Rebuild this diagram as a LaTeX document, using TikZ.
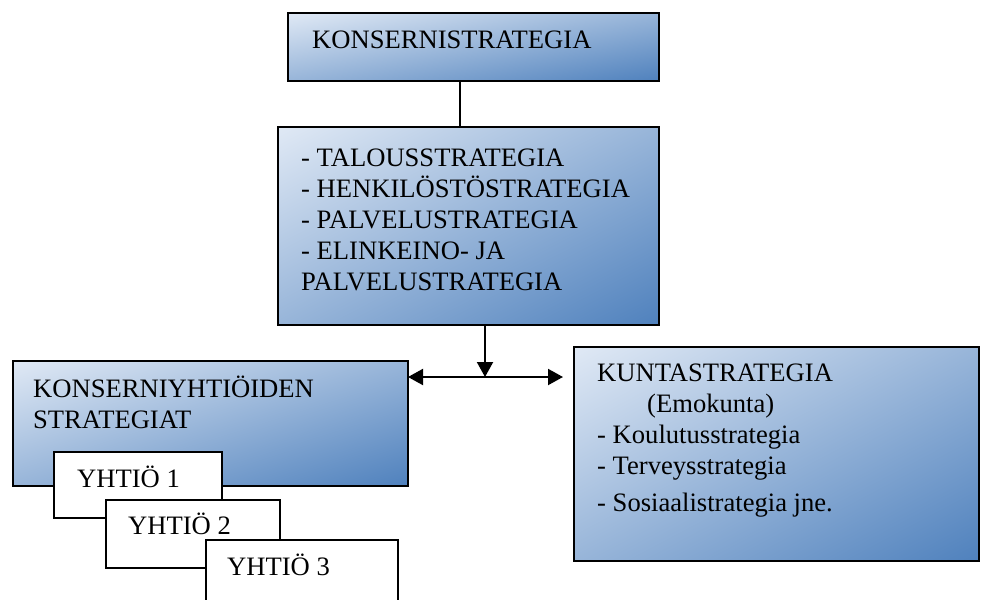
\documentclass[tikz,border=0pt]{standalone}
\usepackage{fontspec}
\setmainfont{Liberation Serif}
\usetikzlibrary{arrows.meta}
\pgfdeclarelayer{background}
\pgfsetlayers{background,main}
\definecolor{shadelight}{RGB}{224,233,245}
\definecolor{shadedark}{RGB}{79,129,189}
\tikzset{
  blockbox/.style={draw=black, line width=2pt, inner sep=0pt, outer sep=0pt, anchor=north west},
  companybox/.style={draw=black, line width=1.6pt, fill=white, inner sep=0pt, anchor=north west},
  boxtext/.style={anchor=base west, inner sep=0pt, align=left,
    font=\fontsize{26.6}{30.8}\selectfont},
  link/.style={line width=2pt},
  onetip/.style={-{Triangle[length=15pt,width=16pt]}},
  twotips/.style={{Triangle[length=15pt,width=16pt]}-{Triangle[length=15pt,width=16pt]}}
}
\begin{document}
\begin{tikzpicture}[x=1pt,y=1pt]
\useasboundingbox (0,0) rectangle (981,-599);
\begin{scope}
\clip (0,0) rectangle (981,-599);

% strategy blocks
\node[blockbox, minimum width=371pt, minimum height=68pt]  (group)     at (288,-13)  {};
\node[blockbox, minimum width=381pt, minimum height=198pt] (plans)     at (278,-127) {};
\node[blockbox, minimum width=395pt, minimum height=125pt] (subsid)    at (13,-361)  {};
\node[blockbox, minimum width=405pt, minimum height=214pt] (municipal) at (574,-347) {};

% diagonal gradient stretched with each block: light top-left, dark bottom-right
\begin{pgfonlayer}{background}
  \foreach \blk/\bw/\bh in {group/371/68, plans/381/198, subsid/395/125, municipal/405/214} {
    \begin{scope}
      \clip (\blk.north west) rectangle (\blk.south east);
      \begin{scope}[transform canvas={shift={(\blk.center)}, xscale=\bw/100, yscale=\bh/100, rotate=-45}]
        \shade[left color=shadelight, right color=shadedark] (-70.72,-70.72) rectangle (70.72,70.72);
      \end{scope}
    \end{scope}
  }
\end{pgfonlayer}

% company cards, stacked
\node[companybox, minimum width=168pt, minimum height=66pt] (co1) at (53,-451)  {};
\node[companybox, minimum width=174pt, minimum height=68pt] (co2) at (105,-499) {};
\node[companybox, minimum width=192pt, minimum height=90pt] (co3) at (205,-539) {};

% texts (a multi-line node sits on the baseline of its last line)
\node[boxtext] (groupt) at (312,-49) {KONSERNISTRATEGIA};
\node[boxtext] (planst) at (301,-290) {- TALOUSSTRATEGIA\\- HENKILÖSTÖSTRATEGIA\\- PALVELUSTRATEGIA\\- ELINKEINO- JA\\PALVELUSTRATEGIA};
\node[boxtext] (subsidt) at (33,-428) {KONSERNIYHTIÖIDEN\\STRATEGIAT};
\node[boxtext] (municipalt) at (597,-511) {KUNTASTRATEGIA\\\hspace*{50pt}(Emokunta)\\- Koulutusstrategia\\- Terveysstrategia\\[6pt]- Sosiaalistrategia jne.};
\node[boxtext] (co1t) at (77,-487)  {YHTIÖ 1};
\node[boxtext] (co2t) at (128,-534) {YHTIÖ 2};
\node[boxtext] (co3t) at (227,-575) {YHTIÖ 3};

% connectors
\coordinate (spine) at (460,0);
\coordinate (drop)  at (485,-377);
\draw[link] (spine |- group.south) -- (spine |- plans.north);
\draw[link, onetip] (drop |- plans.south) -- (drop);
\draw[link, twotips] (subsid.east |- drop) -- ([xshift=-11pt]municipal.west |- drop);
\end{scope}
\end{tikzpicture}
\end{document}
